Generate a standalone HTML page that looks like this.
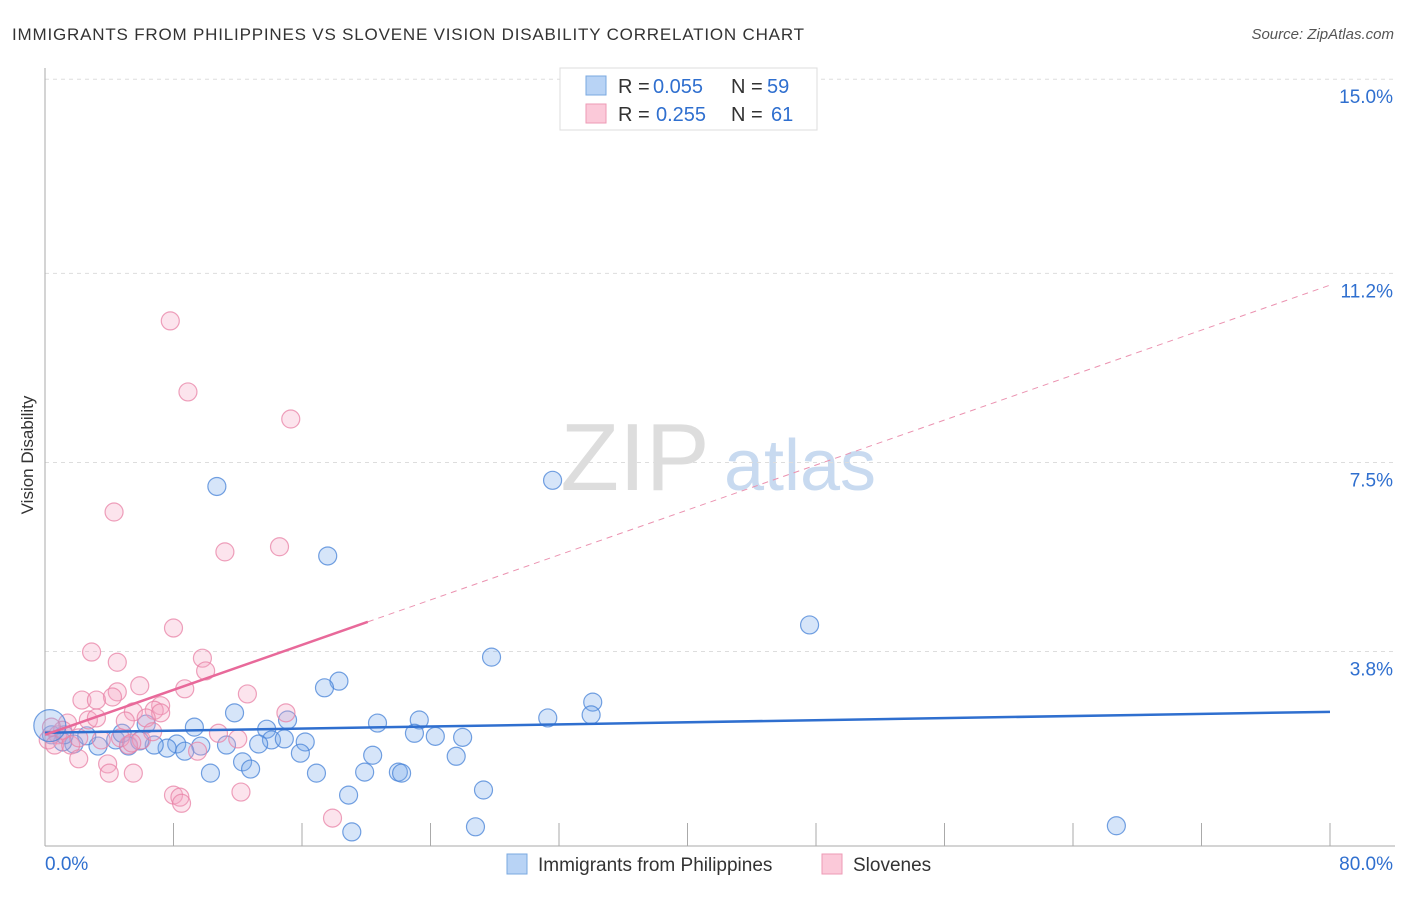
<!DOCTYPE html>
<html><head><meta charset="utf-8"><style>
body{margin:0;background:#fff;font-family:"Liberation Sans",sans-serif}
svg text{font-family:"Liberation Sans",sans-serif}
</style></head><body>
<svg id="chart" width="1406" height="892">
<text x="12" y="40" font-size="17" fill="#333" textLength="792">IMMIGRANTS FROM PHILIPPINES VS SLOVENE VISION DISABILITY CORRELATION CHART</text>
<text x="1394" y="39" font-size="15" fill="#555" font-style="italic" text-anchor="end">Source: ZipAtlas.com</text>
<text x="33" y="455" font-size="17" fill="#333" text-anchor="middle" transform="rotate(-90 33 455)">Vision Disability</text>
<g><text x="635" y="490" font-size="96" fill="#ddd" font-family="Liberation Serif" text-anchor="middle">ZIP</text><text x="800" y="490" font-size="72" fill="#c8daf0" text-anchor="middle">atlas</text></g>
<g id="grid"></g><g id="axes"></g><g id="pts"></g><g id="lines"></g>
<g>
<rect x="560" y="68" width="257" height="62" fill="#fff" stroke="#ddd"/>
<rect x="586" y="76" width="20" height="19" fill="#b8d3f5" stroke="#7aa8e0"/>
<rect x="586" y="104" width="20" height="19" fill="#fbc9d9" stroke="#ee9ab5"/>
<text y="93" font-size="20" fill="#333"><tspan x="618">R =</tspan><tspan x="653" fill="#2f6fcf">0.055</tspan><tspan x="731">N =</tspan><tspan x="767" fill="#2f6fcf">59</tspan></text>
<text y="121" font-size="20" fill="#333"><tspan x="618">R =</tspan><tspan x="656" fill="#2f6fcf">0.255</tspan><tspan x="731">N =</tspan><tspan x="771" fill="#2f6fcf">61</tspan></text>
</g>
<g>
<rect x="507" y="854" width="20" height="20" fill="#b8d3f5" stroke="#7aa8e0"/>
<text x="538" y="871" font-size="19" fill="#333">Immigrants from Philippines</text>
<rect x="822" y="854" width="20" height="20" fill="#fbc9d9" stroke="#ee9ab5"/>
<text x="853" y="871" font-size="19" fill="#333">Slovenes</text>
</g>
</svg>
<script>
const yTicks=[3.8,7.5,11.2,15.0];
const xTickVals=[0,8,16,24,32,40,48,56,64,72,80];
const xLabels=["0.0%","80.0%"];
const blueX=[10.7,31.6,17.6,47.6,27.8,18.3,17.4,34.1,34.0,31.3,11.8,15.1,20.7,23.3,23.0,24.3,26.0,9.3,6.3,13.8,14.1,14.9,16.2,13.3,11.3,9.7,8.2,7.6,8.7,6.8,5.2,4.4,3.3,1.8,1.1,0.4,2.6,4.8,12.3,12.8,10.3,15.9,16.9,20.4,19.9,22.0,22.2,25.6,27.3,18.9,19.1,26.8,66.7,1.2,5.9];
const blueY=[7.03,7.15,5.67,4.32,3.69,3.22,3.09,2.81,2.56,2.50,2.60,2.46,2.40,2.46,2.20,2.14,2.12,2.32,2.38,2.28,2.07,2.09,2.03,1.99,1.97,1.95,1.99,1.91,1.85,1.97,1.95,2.07,1.95,1.99,2.03,2.17,2.15,2.20,1.64,1.50,1.42,1.81,1.42,1.77,1.44,1.44,1.42,1.75,1.09,0.99,0.27,0.37,0.39,2.17,2.05];
const pinkX=[7.8,8.9,15.3,4.3,11.2,14.6,8.0,2.9,4.5,9.8,10.0,5.9,8.7,4.5,4.2,2.3,3.2,12.6,7.2,6.8,7.2,5.5,5.0,6.3,15.0,2.7,3.2,1.4,0.8,0.2,0.6,1.6,2.1,3.5,5.2,6.0,6.7,10.8,12.0,9.5,2.1,3.9,4.0,5.5,8.0,8.4,8.5,12.2,17.9,1.1,0.4,4.7,5.4];
const pinkY=[10.27,8.88,8.35,6.53,5.75,5.85,4.26,3.79,3.59,3.67,3.42,3.13,3.07,3.01,2.91,2.85,2.85,2.97,2.74,2.65,2.60,2.62,2.44,2.50,2.60,2.46,2.50,2.40,2.17,2.07,1.97,1.97,2.11,2.07,1.97,2.07,2.23,2.20,2.09,1.85,1.70,1.60,1.42,1.42,0.99,0.95,0.83,1.05,0.54,2.26,2.32,2.11,2.01];
const blueTrend=[2.21,2.62];
const pinkTrend=[2.17,10.97];
const pinkSolidEnd=20.1;

const X=v=>45+v/80*1285, Y=v=>845.7-v*51.1;
const NS="http://www.w3.org/2000/svg";
function mk(t,a,p){const e=document.createElementNS(NS,t);for(const k in a)e.setAttribute(k,a[k]);document.getElementById(p).appendChild(e);return e;}
yTicks.forEach(v=>{
 const l=mk('line',{x1:45,x2:1395,y1:Y(v),y2:Y(v),stroke:'#ddd','stroke-dasharray':'4,4'},'grid');
 
 
 const t=mk('text',{x:1393,y:Y(v)+24,'font-size':19,fill:'#2f6fcf','text-anchor':'end'},'grid');
 t.textContent=v.toFixed(1)+'%';
 
 
});
mk('line',{x1:45,x2:45,y1:68,y2:846,stroke:'#aaa'},'axes');
mk('line',{x1:45,x2:1395,y1:846,y2:846,stroke:'#aaa'},'axes');
xTickVals.forEach(v=>{
 const l=mk('line',{x1:X(v),x2:X(v),y1:823,y2:846,stroke:'#aaa'},'axes');
 
 
});
[[0,'start',xLabels[0]],[80,'end',xLabels[1]]].forEach(([v,a,s])=>{
 const t=mk('text',{x:v==0?45:1393,y:870,'font-size':19,fill:'#2f6fcf','text-anchor':a},'axes');
 t.textContent=s;
 
 
});
blueX.forEach((x,i)=>{
 const c=mk('circle',{cx:X(x),cy:Y(blueY[i]),r:9,fill:'rgba(120,170,235,0.3)',stroke:'rgba(70,130,215,0.75)','stroke-width':1.2},'pts');
 
 
});
pinkX.forEach((x,i)=>{
 const c=mk('circle',{cx:X(x),cy:Y(pinkY[i]),r:9,fill:'rgba(245,165,195,0.3)',stroke:'rgba(232,130,165,0.75)','stroke-width':1.2},'pts');
 
 
});
const big=mk('circle',{cx:X(0.3),cy:Y(2.35),r:16,fill:'rgba(120,170,235,0.3)',stroke:'rgba(70,130,215,0.75)','stroke-width':1.2},'pts');


const bl=mk('line',{x1:X(0),y1:Y(blueTrend[0]),x2:X(80),y2:Y(blueTrend[1]),stroke:'#2f6fcf','stroke-width':2.5},'lines');


const pm=(pinkTrend[1]-pinkTrend[0])/80;
const pd=mk('line',{x1:X(pinkSolidEnd),y1:Y(pinkTrend[0]+pm*pinkSolidEnd),x2:X(80),y2:Y(pinkTrend[1]),stroke:'#eb92b0','stroke-width':1,'stroke-dasharray':'6,5'},'lines');


const ps=mk('line',{x1:X(0),y1:Y(pinkTrend[0]),x2:X(pinkSolidEnd),y2:Y(pinkTrend[0]+pm*pinkSolidEnd),stroke:'#e8699a','stroke-width':2.5},'lines');


</script>
</body></html>
